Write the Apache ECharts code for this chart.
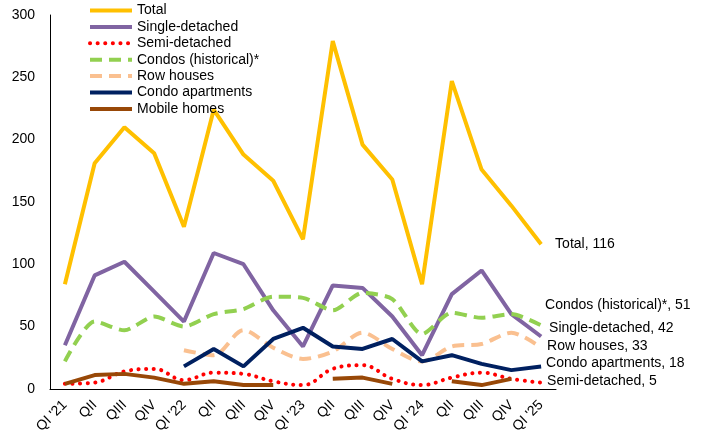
<!DOCTYPE html>
<html><head><meta charset="utf-8">
<script src="https://cdn.jsdelivr.net/npm/echarts@6/dist/echarts.min.js"></script>
<style>html,body{margin:0;padding:0;background:#fff}#c{width:712px;height:436px}</style>
</head><body><div id="c"></div>
<script>
var categories = ["QI '21","QII","QIII","QIV","QI '22","QII","QIII","QIV","QI '23","QII","QIII","QIV","QI '24","QII","QIII","QIV","QI '25"];
var total        = [84,181,210,189,130,224,188,167,120,279,196,168,84,247,176,147,116];
var singleDet    = [35,91,102,78,54,109,100,63,34,83,81,58,27,76,95,60,42];
var semiDet      = [4,5,14,16,7,13,12,6,3,16,19,8,3,9,13,8,5];
var condosHist   = [22,54,47,58,50,60,64,74,73,63,77,72,44,61,57,60,51];
var rowHouses    = [null,null,null,null,31,27,47,33,24,30,45,32,22,34,36,45,33];
var condoApts    = [null,null,null,null,18,32,18,40,49,34,32,40,22,27,20,15,18];
var mobileHomes  = [4,11,12,9,4,6,3,3,null,8,9,4,null,6,3,8,null];
var yTicks = [0,50,100,150,200,250,300];

var FONT = 'Liberation Sans, Arial, sans-serif';
function endLabel(name, offset) {
  return { show: true, offset: offset, distance: 5, color: '#000', fontSize: 14, fontFamily: FONT,
    formatter: function (p) { return name + ', ' + p.value; } };
}
var chart = echarts.init(document.getElementById('c'));
chart.setOption({
  animation: false,
  textStyle: { fontFamily: FONT },
  legend: {
    orient: 'vertical', left: 83, top: -1.5, itemWidth: 42, itemHeight: 12, itemGap: 2.4,
    itemStyle: { opacity: 0 },
    lineStyle: { width: 4 },
    textStyle: { fontSize: 14, color: '#000', fontFamily: FONT, padding: [0,0,0,0] },
    data: ['Total','Single-detached','Semi-detached','Condos (historical)*','Row houses','Condo apartments','Mobile homes']
  },
  grid: { left: 50, right: 156, top: 15, bottom: 46, containLabel: false },
  xAxis: {
    type: 'category', data: categories, boundaryGap: true,
    axisLine: { lineStyle: { color: '#000', width: 1 } },
    axisTick: { show: false },
    axisLabel: { rotate: 45, color: '#000', fontSize: 14, fontFamily: FONT, margin: 14, interval: 0 }
  },
  yAxis: {
    type: 'value', min: 0, max: 300, interval: 50,
    axisLine: { show: true, lineStyle: { color: '#000', width: 1 } },
    axisTick: { show: false }, splitLine: { show: false },
    axisLabel: { color: '#000', fontSize: 14, fontFamily: FONT, margin: 15,
      formatter: function (v) { return yTicks.indexOf(v) >= 0 ? String(v) : ''; } }
  },
  series: [
    { name: 'Total', type: 'line', symbol: 'none', data: total, endLabel: endLabel('Total', [9, 0]),
      lineStyle: { color: '#FFC000', width: 4 }, itemStyle: { color: '#FFC000' }, z: 2 },
    { name: 'Single-detached', type: 'line', symbol: 'none', data: singleDet, endLabel: endLabel('Single-detached', [3, -8]),
      lineStyle: { color: '#8064A2', width: 4 }, itemStyle: { color: '#8064A2' }, z: 3 },
    { name: 'Semi-detached', type: 'line', symbol: 'none', smooth: 0.4, data: semiDet, endLabel: endLabel('Semi-detached', [1, -1]),
      lineStyle: { color: '#FF0000', width: 4, type: [0.1, 7.5], cap: 'round' }, itemStyle: { color: '#FF0000' }, z: 4 },
    { name: 'Condos (historical)*', type: 'line', symbol: 'none', smooth: 0.25, data: condosHist, endLabel: endLabel('Condos (historical)*', [-1, -20]),
      lineStyle: { color: '#92D050', width: 4, type: [12, 7] }, itemStyle: { color: '#92D050' }, z: 3 },
    { name: 'Row houses', type: 'line', symbol: 'none', smooth: 0.3, data: rowHouses, endLabel: endLabel('Row houses', [1, -2]),
      lineStyle: { color: '#FAC090', width: 4, type: [12, 7] }, itemStyle: { color: '#FAC090' }, z: 2 },
    { name: 'Condo apartments', type: 'line', symbol: 'none', data: condoApts, endLabel: endLabel('Condo apartments', [0, -3]),
      lineStyle: { color: '#002060', width: 4 }, itemStyle: { color: '#002060' }, z: 4 },
    { name: 'Mobile homes', type: 'line', symbol: 'none', data: mobileHomes,
      lineStyle: { color: '#984807', width: 4 }, itemStyle: { color: '#984807' }, z: 4 }
  ]
});
</script></body></html>
